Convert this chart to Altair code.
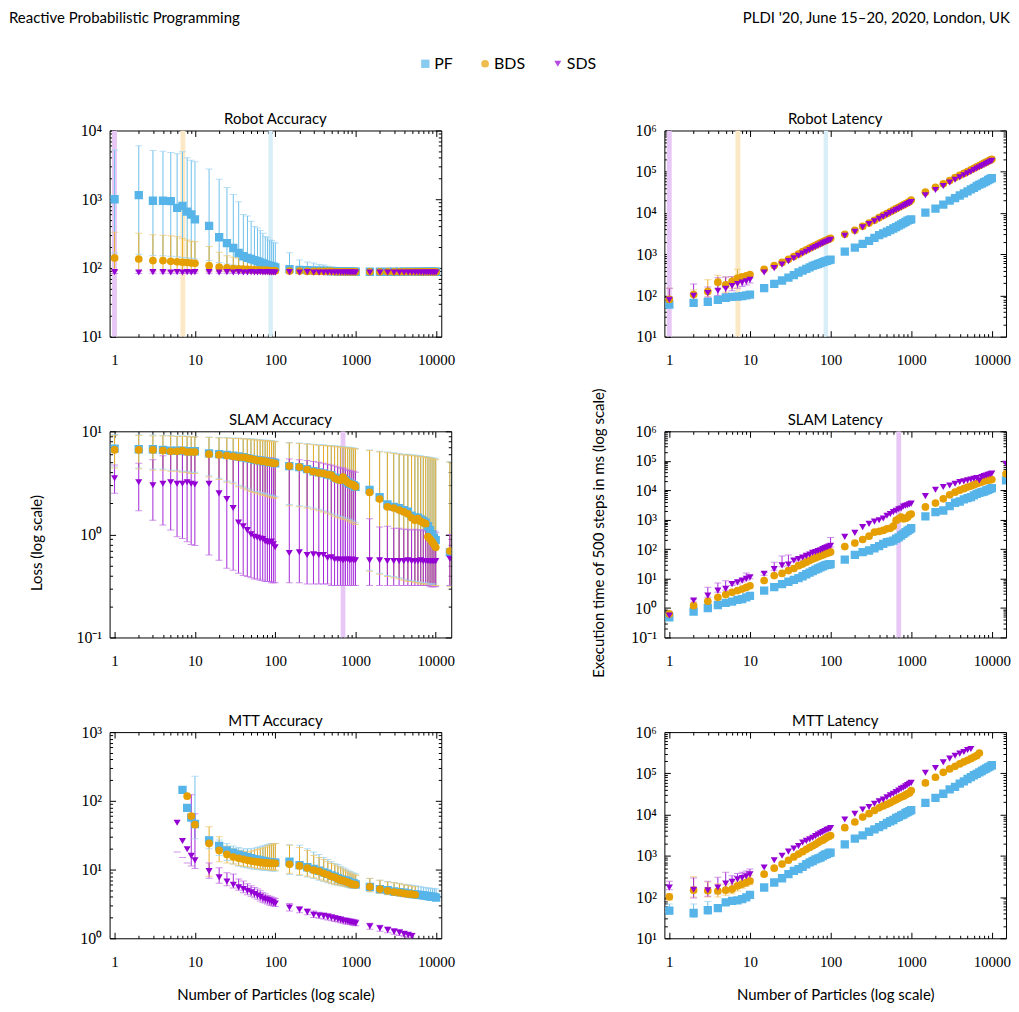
import altair as alt
import pandas as pd

SERIES = ["PF", "BDS", "SDS"]
COLORS = ["#56B4E9", "#E69F00", "#9400D3"]
BAR_COLORS = ["#6FBFEC", "#EAAD26", "#A426D9"]
CAP_COLORS = ["#9AD2F2", "#F0C566", "#BF66E5"]
SHAPES = ["square", "circle", "triangle-down"]
SIZES = [70, 50, 54]
BAR_OF = dict(zip(SERIES, BAR_COLORS))
CAP_OF = dict(zip(SERIES, CAP_COLORS))

# particle counts
X = [1, 2, 3, 4, 5, 6, 7, 8, 9, 10,
     15, 20, 25, 30, 35, 40, 45, 50, 55, 60, 65, 70, 75, 80, 85, 90, 95, 100,
     150, 200, 250, 300, 350, 400, 450, 500, 550, 600, 650, 700, 750, 800, 850, 900, 950, 1000,
     1500, 2000, 2500, 3000, 3500, 4000, 4500, 5000, 5500, 6000, 6500, 7000, 7500, 8000, 8500, 9000, 9500, 10000]
X_SLAM = X + [15000]

# ---------------- Robot accuracy ----------------
RA_PF = [1000, 1150, 950, 950, 940, 750, 800, 660, 600, 510,
         410, 280, 230, 195, 165, 148, 140, 135, 130, 125, 120, 116, 113, 110, 108, 106, 104, 102,
         96, 94, 93, 92, 91, 91, 90, 90, 90, 89, 89, 89, 89, 88, 88, 88, 88, 88,
         88, 88, 88, 88, 88, 88, 88, 88, 88, 88, 88, 88, 88, 88, 88, 88, 88, 88]
RA_PF_HI = [5200, 6000, 5100, 5000, 4800, 4600, 4900, 4000, 3700, 3500,
            2750, 1950, 1480, 1170, 920, 600, 570, 480, 400, 380, 350, 320, 287, 274, 256, 250, 237, 230,
            167, 131, 122, 118, 112, 110, 106, 104, 102, 101, 100, 99, 98, 97, 96, 96, 95, 95,
            93, 93, 93, 93, 92, 92, 92, 92, 92, 92, 92, 92, 92, 92, 92, 92, 92, 92]
RA_PF_LO = [165, 158, 152, 150, 148, 145, 142, 140, 138, 135,
            128, 120, 114, 110, 106, 102, 100, 98, 97, 96, 95, 94, 93, 92, 92, 91, 91, 90,
            89, 89, 88, 88, 88, 87, 87, 87, 87, 87, 86, 86, 86, 86, 86, 86, 86, 86,
            85, 85, 85, 85, 85, 85, 85, 85, 85, 85, 85, 85, 85, 85, 85, 85, 85, 85]
RA_BDS = [140, 135, 128, 128, 125, 123, 121, 120, 118, 117,
          108, 103, 100, 98, 97, 96, 95, 94, 94, 93, 93, 92, 92, 92, 91, 91, 91, 91,
          90, 90, 89, 89, 89, 89, 89, 89, 88, 88, 88, 88, 88, 88, 88, 88, 88, 88,
          88, 88, 88, 88, 88, 88, 88, 88, 88, 88, 88, 88, 88, 88, 88, 88, 88, 88]
RA_BDS_HI = [330, 320, 303, 300, 295, 285, 270, 255, 245, 240,
             205, 169, 150, 143, 138, 133, 128, 124, 121, 118, 116, 114, 112, 110, 108, 107, 106, 105,
             100, 98, 96, 95, 94, 94, 93, 93, 92, 92, 92, 91, 91, 91, 91, 90, 90, 90,
             90, 90, 90, 90, 90, 90, 90, 90, 90, 90, 90, 90, 90, 90, 90, 90, 90, 90]
RA_BDS_LO = [92, 92, 91, 91, 91, 90, 90, 90, 90, 90,
             89, 89, 88, 88, 88, 88, 88, 87, 87, 87, 87, 87, 87, 87, 87, 87, 87, 87,
             86, 86, 86, 86, 86, 86, 86, 86, 86, 86, 86, 86, 86, 86, 86, 86, 86, 86,
             86, 86, 86, 86, 86, 86, 86, 86, 86, 86, 86, 86, 86, 86, 86, 86, 86, 86]
RA_SDS = [87, 86, 87, 87, 86, 87, 86, 87, 86, 87,
          87, 86, 87, 86, 87, 86, 86, 87, 86, 86, 87, 86, 86, 87, 86, 86, 86, 86,
          87, 86, 87, 86, 86, 86, 86, 86, 86, 86, 86, 86, 86, 86, 86, 86, 86, 86,
          86, 86, 86, 86, 86, 86, 86, 86, 86, 86, 86, 86, 86, 86, 86, 86, 86, 86]
RA_SDS_HI = [91, 90, 90, 90, 90, 90, 90, 90, 90, 90,
             90, 89, 89, 89, 89, 89, 89, 89, 89, 89, 89, 89, 89, 89, 89, 89, 89, 89,
             89, 89, 89, 89, 89, 89, 89, 89, 89, 89, 89, 89, 89, 89, 89, 89, 89, 89,
             89, 89, 89, 89, 89, 89, 89, 89, 89, 89, 89, 89, 89, 89, 89, 89, 89, 89]
RA_SDS_LO = [83, 83, 84, 84, 84, 84, 84, 84, 84, 84,
             84, 84, 84, 84, 84, 84, 84, 84, 84, 84, 84, 84, 84, 84, 84, 84, 84, 84,
             84, 84, 84, 84, 84, 84, 84, 84, 84, 84, 84, 84, 84, 84, 84, 84, 84, 84,
             84, 84, 84, 84, 84, 84, 84, 84, 84, 84, 84, 84, 84, 84, 84, 84, 84, 84]

# ---------------- Robot latency ----------------
RL_PF = [60, 66, 70, 78, 88, 92, 94, 96, 100, 105,
         150, 190, 230, 270, 310, 360, 400, 440, 480, 520, 550, 580, 610, 640, 670, 690, 720, 740,
         1150, 1450, 1780, 2100, 2500, 2900, 3200, 3500, 3850, 4200, 4550, 4950, 5300, 5650, 6100, 6500, 6800, 7000,
         10200, 12700, 16000, 20000, 23000, 26500, 30000, 33500, 37500, 40500, 45000, 48500, 51500, 55500, 58500, 63000, 66500, 70000]
RL_BDS = [80, 105, 125, 210, 180, 220, 265, 280, 300, 320,
          430, 530, 630, 750, 880, 1000, 1150, 1270, 1400, 1520, 1640, 1760, 1880, 2000, 2100, 2200, 2320, 2430,
          3050, 3800, 4750, 5700, 6650, 7700, 8700, 9700, 10700, 11700, 12700, 13700, 14700, 15700, 16700, 17700, 18800, 20500,
          32000, 42000, 51000, 61000, 72000, 82000, 91000, 101000, 111000, 121000, 132000, 141000, 151000, 162000, 171000, 181000, 191000, 200000]
RL_SDS = [78, 98, 115, 130, 145, 170, 190, 205, 220, 240,
          360, 460, 560, 680, 800, 920, 1040, 1150, 1270, 1390, 1500, 1610, 1720, 1830, 1940, 2040, 2140, 2250,
          2800, 3500, 4500, 5400, 6300, 7200, 8100, 9000, 10000, 10900, 11800, 12700, 13600, 14500, 15500, 16400, 17300, 18500,
          27000, 36000, 45000, 55000, 64000, 73000, 82000, 91000, 100000, 110000, 120000, 128000, 137000, 146000, 155000, 165000, 174000, 183000]
RL_PF_HI = [75, 80, 84, 92, 102, 106, 108, 110, 114, 120]
RL_PF_LO = [50, 56, 60, 68, 78, 82, 84, 86, 90, 94]
RL_BDS_HI = [150, 135, 240, 310, 280, 290, 430, 340, 330, 330]
RL_BDS_LO = [60, 80, 95, 140, 120, 150, 200, 220, 240, 260]
RL_SDS_HI = [150, 190, 160, 270, 280, 290, 290, 280, 270, 280]
RL_SDS_LO = [55, 70, 90, 100, 110, 130, 150, 165, 180, 200]

# ---------------- SLAM accuracy ----------------
SA_PF = [6.8, 6.7, 6.7, 6.6, 6.5, 6.5, 6.5, 6.4, 6.4, 6.4,
         6.1, 6.0, 5.9, 5.8, 5.7, 5.6, 5.5, 5.4, 5.3, 5.25, 5.2, 5.15, 5.1, 5.05, 5.0, 5.0, 4.95, 4.9,
         4.6, 4.5, 4.3, 4.1, 4.0, 3.9, 3.8, 3.75, 3.55, 3.45, 3.4, 3.5, 3.35, 3.2, 3.1, 3.05, 3.0, 2.9,
         2.7, 2.3, 1.95, 1.85, 1.8, 1.72, 1.66, 1.52, 1.46, 1.45, 1.4, 1.35, 1.3, 1.2, 1.1, 1.0, 0.93, 0.88,
         0.67]
SA_PF_HI = [9.3, 9.2, 9.2, 9.1, 9.1, 9.0, 9.0, 9.0, 8.9, 8.9,
            8.8, 8.7, 8.7, 8.6, 8.6, 8.5, 8.5, 8.4, 8.4, 8.3, 8.3, 8.2, 8.2, 8.2, 8.1, 8.1, 8.0, 8.0,
            7.8, 7.7, 7.6, 7.5, 7.4, 7.4, 7.3, 7.3, 7.2, 7.2, 7.1, 7.1, 7.0, 7.0, 7.0, 6.9, 6.9, 6.8,
            6.6, 6.4, 6.3, 6.2, 6.1, 6.0, 6.0, 5.9, 5.9, 5.8, 5.8, 5.7, 5.7, 5.6, 5.6, 5.5, 5.5, 5.4,
            5.1]
SA_PF_LO = [4.5, 4.4, 4.3, 4.3, 4.2, 4.2, 4.1, 4.1, 4.0, 4.0,
            3.7, 3.5, 3.3, 3.2, 3.0, 2.9, 2.8, 2.7, 2.6, 2.6, 2.55, 2.5, 2.5, 2.45, 2.4, 2.4, 2.35, 2.35,
            1.95, 1.9, 1.85, 1.8, 1.75, 1.7, 1.65, 1.6, 1.55, 1.5, 1.5, 1.45, 1.45, 1.4, 1.4, 1.35, 1.35, 1.3,
            0.45, 0.42, 0.40, 0.39, 0.38, 0.37, 0.36, 0.36, 0.35, 0.35, 0.34, 0.34, 0.34, 0.33, 0.33, 0.33, 0.33, 0.32,
            0.32]
SA_BDS = [6.6, 6.6, 6.6, 6.5, 6.4, 6.4, 6.5, 6.3, 6.3, 6.3,
          6.0, 5.9, 5.8, 5.7, 5.6, 5.6, 5.5, 5.4, 5.3, 5.2, 5.2, 5.1, 5.1, 5.0, 5.0, 4.95, 4.9, 4.9,
          4.6, 4.5, 4.25, 4.05, 3.95, 3.9, 3.8, 3.75, 3.5, 3.4, 3.35, 3.6, 3.35, 3.2, 3.1, 3.05, 3.0, 2.9,
          2.55, 2.2, 1.85, 1.8, 1.72, 1.65, 1.58, 1.45, 1.37, 1.42, 1.34, 1.3, 1.27, 0.95, 0.9, 0.85, 0.8, 0.75,
          0.69]
SA_BDS_HI = [9.1, 9.1, 9.0, 9.0, 9.0, 8.9, 8.9, 8.9, 8.8, 8.8,
             8.7, 8.6, 8.6, 8.5, 8.5, 8.4, 8.4, 8.3, 8.3, 8.2, 8.2, 8.1, 8.1, 8.1, 8.0, 8.0, 7.9, 7.9,
             7.7, 7.6, 7.5, 7.4, 7.3, 7.3, 7.2, 7.2, 7.1, 7.1, 7.0, 7.0, 6.9, 6.9, 6.9, 6.8, 6.8, 6.7,
             6.5, 6.3, 6.2, 6.1, 6.0, 5.9, 5.9, 5.8, 5.8, 5.7, 5.7, 5.6, 5.6, 5.5, 5.5, 5.4, 5.4, 5.3,
             5.0]
SA_BDS_LO = [4.4, 4.3, 4.2, 4.2, 4.1, 4.1, 4.0, 4.0, 3.9, 3.9,
             3.6, 3.4, 3.2, 3.1, 2.9, 2.8, 2.7, 2.6, 2.55, 2.5, 2.45, 2.4, 2.4, 2.35, 2.3, 2.3, 2.25, 2.25,
             1.9, 1.85, 1.8, 1.75, 1.7, 1.65, 1.6, 1.55, 1.5, 1.45, 1.45, 1.4, 1.4, 1.35, 1.35, 1.3, 1.3, 1.25,
             0.44, 0.41, 0.39, 0.38, 0.37, 0.36, 0.35, 0.35, 0.34, 0.34, 0.33, 0.33, 0.33, 0.32, 0.32, 0.32, 0.32, 0.32,
             0.31]
SA_SDS = [3.5, 3.2, 3.0, 3.1, 3.2, 3.1, 3.1, 3.2, 3.1, 3.05,
          3.1, 2.5, 2.2, 1.8, 1.3, 1.2, 1.1, 1.0, 0.95, 0.93, 0.91, 0.9, 0.86, 0.84, 0.83, 0.85, 0.8, 0.75,
          0.66, 0.67, 0.63, 0.64, 0.63, 0.63, 0.59, 0.6, 0.57, 0.57, 0.57, 0.56, 0.57, 0.57, 0.56, 0.57, 0.56, 0.56,
          0.56, 0.56, 0.55, 0.55, 0.55, 0.55, 0.56, 0.55, 0.55, 0.55, 0.56, 0.55, 0.55, 0.55, 0.55, 0.55, 0.55, 0.55,
          0.58]
SA_SDS_HI = [4.7, 4.9, 5.3, 5.8, 6.1, 6.3, 6.3, 6.3, 6.3, 6.3,
             6.2, 6.1, 6.0, 5.9, 5.9, 5.8, 5.8, 5.7, 5.7, 5.6, 5.6, 5.6, 5.5, 5.5, 5.5, 5.5, 5.4, 5.4,
             5.4, 5.3, 5.2, 5.1, 5.0, 4.9, 4.8, 4.7, 4.6, 4.5, 4.4, 4.4, 4.3, 4.2, 4.2, 4.1, 4.1, 4.0,
             1.42, 1.18, 1.2, 1.15, 1.15, 1.12, 1.12, 1.1, 1.12, 1.1, 1.1, 1.1, 1.08, 1.08, 1.1, 1.08, 1.08, 1.05,
             1.0]
SA_SDS_LO = [2.5, 1.7, 1.37, 1.23, 1.1, 0.95, 0.91, 0.85, 0.8, 0.78,
             0.63, 0.56, 0.47, 0.45, 0.42, 0.40, 0.39, 0.38, 0.37, 0.37, 0.36, 0.36, 0.35, 0.35, 0.35, 0.34, 0.34, 0.34,
             0.34, 0.34, 0.33, 0.33, 0.33, 0.33, 0.33, 0.32, 0.32, 0.32, 0.32, 0.32, 0.32, 0.32, 0.32, 0.32, 0.32, 0.32,
             0.32, 0.32, 0.32, 0.32, 0.32, 0.32, 0.32, 0.32, 0.32, 0.32, 0.32, 0.32, 0.32, 0.32, 0.31, 0.31, 0.31, 0.31,
             0.32]

# ---------------- SLAM latency ----------------
SL_PF = [0.48, 0.75, 1.0, 1.27, 1.49, 1.65, 1.9, 2.0, 2.3, 2.6,
         3.9, 5.1, 6.5, 7.8, 9.0, 10.3, 12, 14, 16, 18, 20, 22, 24, 26, 28, 29, 30, 31,
         44, 64, 79, 90, 107, 126, 150, 173, 180, 195, 225, 250, 290, 330, 375, 420, 460, 510,
         1300, 1800, 2050, 2900, 3750, 4150, 4900, 5400, 5800, 6650, 7500, 8100, 8600, 9000, 9800, 10300, 11100, 11700,
         21500]
SL_BDS = [0.63, 1.2, 1.7, 2.3, 2.86, 3.4, 3.9, 4.4, 5.0, 5.7,
          8.6, 12.6, 15, 18.7, 22, 27.5, 31, 36, 41, 46, 50, 55, 59, 63, 68, 72, 76, 80,
          122, 160, 212, 275, 377, 400, 430, 490, 510, 600, 940, 1070, 1220, 1070, 1100, 1200, 1450, 1550,
          2700, 3650, 5100, 7000, 8600, 10000, 11300, 12800, 13800, 15300, 16600, 18000, 19000, 20500, 21600, 22000, 22500, 23000,
          36000]
SL_SDS = [0.56, 1.8, 2.64, 3.9, 4.46, 6.5, 7.4, 8.5, 9.8, 11,
          14.5, 21, 28, 30, 41, 46, 52, 59, 66, 75, 80, 86, 92, 100, 108, 115, 122, 130,
          260, 357, 557, 720, 860, 960, 1100, 1350, 1550, 1800, 2000, 2250, 2400, 2800, 2950, 3100, 3300, 3500,
          6300, 10400, 12800, 14500, 16500, 18900, 20000, 21500, 23000, 24500, 26000, 21500, 28000, 30000, 31500, 33500, 35000, 37000,
          79000]
SL_PF_HI = [0.55, 0.85, 1.1, 1.4, 1.6, 1.8, 2.1, 2.2, 2.5, 2.9,
            4.3, 5.6, 7.1, 8.5, 9.8, 11.2, 13, 15, 17, 20, 22, 24, 27, 29, 31, 33, 35, 41]
SL_PF_LO = [0.42, 0.68, 0.92, 1.15, 1.38, 1.52, 1.75, 1.85, 2.1, 2.4,
            3.6, 4.7, 6.0, 7.2, 8.3, 9.5, 11, 13, 15, 16.5, 18.5, 20, 22, 24, 25.5, 26.5, 27.5, 28]
SL_SDS_HI = [0.62, 2.0, 5.1, 7.1, 8.5, 7.2, 8.2, 9.4, 15.4, 12.5,
             16, 36, 58, 63, 46, 52, 58, 66, 73, 84, 90, 96, 103, 112, 120, 128, 136, 250]
SL_SDS_LO = [0.5, 1.6, 2.3, 3.4, 4.0, 5.8, 6.6, 7.6, 8.8, 9.9,
             13, 19, 25, 27, 37, 42, 47, 53, 60, 68, 72, 78, 83, 90, 97, 104, 110, 117]

# ---------------- MTT accuracy ----------------
MA_PF = [None, None, None, None, None, None, 144, 79, 57, 46,
         26.6, 22, 19, 17.6, 16.5, 15.8, 15.2, 14.6, 14.2, 13.9, 13.6, 13.3, 13.1, 12.9, 12.8, 12.7, 12.6, 12.6,
         13, 11.6, 10.8, 10.2, 9.6, 9.1, 8.7, 8.2, 7.9, 7.5, 7.2, 7.0, 6.9, 6.7, 6.5, 6.3, 6.3, 6.1,
         5.6, 5.2, 5.0, 4.8, 4.7, 4.6, 4.5, 4.4, 4.35, 4.3, 4.25, 4.2, 4.15, 4.1, 4.05, 4.0, 4.0, 3.9]
MA_PF_HI = [None, None, None, None, None, None, None, None, None, 227,
            30, 27, 24, 22, 21, 20, 20, 20, 20.5, 21, 21.5, 22, 22.5, 23, 23.5, 24, 24, 24,
            23, 22.5, 20, 18, 16.5, 15, 14, 13, 12.3, 11.8, 11.2, 10.6, 10.2, 9.8, 9.4, 9.0, 8.8, 8.6,
            7.4, 7.0, 6.7, 6.5, 6.3, 6.1, 6.0, 5.9, 5.8, 5.7, 5.6, 5.5, 5.45, 5.4, 5.35, 5.3, 5.25, 5.2]
MA_PF_LO = [None, None, None, None, None, None, None, None, None, 28,
            20, 16, 13.5, 12, 11.2, 10.8, 10.5, 10.3, 10.1, 10.0, 9.9, 9.8, 9.7, 9.7, 9.6, 9.6, 9.5, 9.5,
            8.5, 8.2, 7.8, 7.4, 7.0, 6.7, 6.4, 6.2, 6.0, 5.9, 5.8, 5.7, 5.6, 5.5, 5.4, 5.35, 5.3, 5.3,
            4.7, 4.5, 4.4, 4.3, 4.2, 4.1, 4.0, 3.95, 3.9, 3.85, 3.8, 3.75, 3.7, 3.7, 3.65, 3.6, 3.6, 3.6]
MA_BDS = [None, None, None, None, None, None, None, 117, 60, 45,
          24, 19, 16.6, 15.2, 14.6, 14.1, 13.6, 13.3, 13.1, 12.9, 12.7, 12.6, 12.5, 12.4, 12.4, 12.3, 12.3, 12.3,
          11.9, 11.3, 10.5, 9.8, 9.4, 8.8, 8.4, 7.9, 7.7, 7.3, 7.0, 6.9, 6.7, 6.5, 6.3, 6.1, 6.1, 6.0,
          5.6, 5.2, 4.9, 4.7, 4.6, 4.5, 4.4, 4.4, 4.3]
MA_BDS_HI = [None, None, None, None, None, None, None, None, None, None,
             42, 30, 22, 20, 19, 18.5, 18, 18.5, 19, 19.5, 20, 20.5, 21, 22, 22.5, 23, 23.5, 24,
             22.5, 21, 19, 16, 15, 14, 13, 12.2, 11.6, 11, 10.5, 10, 9.6, 9.2, 8.9, 8.6, 8.4, 8.2,
             7.5, 7.0, 6.6, 6.4, 6.2, 6.0, 5.9, 5.7, 5.6]
MA_BDS_LO = [None, None, None, None, None, None, None, None, None, None,
             8, 13, 12.5, 12, 11.5, 11.2, 11, 10.8, 10.6, 10.4, 10.3, 10.2, 10.1, 10.0, 9.9, 9.9, 9.8, 9.8,
             8.8, 8.4, 8.0, 7.6, 7.2, 6.9, 6.6, 6.3, 6.1, 6.0, 5.9, 5.8, 5.7, 5.6, 5.5, 5.45, 5.4, 5.4,
             4.8, 4.5, 4.3, 4.2, 4.1, 4.0, 3.95, 3.9, 3.9]
MA_SDS = [None, None, None, None, None, 48, 26, 19.7, 15.8, 13.6,
          9.5, 7.7, 6.7, 6.0, 5.5, 5.2, 4.9, 4.65, 4.4, 4.2, 4.0, 3.8, 3.7, 3.6, 3.5, 3.4, 3.3, 3.2,
          2.8, 2.6, 2.4, 2.2, 2.15, 2.1, 2.05, 2.0, 1.95, 1.9, 1.85, 1.8, 1.78, 1.75, 1.72, 1.7, 1.68, 1.65,
          1.5, 1.4, 1.32, 1.25, 1.21, 1.15, 1.11, 1.08]
MA_SDS_HI = [None, None, None, None, None, None, None, None, 123, 65,
             12.5, 10.6, 9.0, 8.6, 7.3, 6.8, 6.2, 5.8, 5.5, 5.2, 4.9, 4.6, 4.4, 4.2, 4.1, 4.0, 3.9, 3.8,
             3.2, 2.9, 2.7, 2.5, 2.4, 2.35, 2.3, 2.2, 2.15, 2.1, 2.05, 2.0, 1.98, 1.95, 1.92, 1.9, 1.87, 1.85,
             1.65, 1.55, 1.47, 1.38, 1.34, 1.28, 1.23, 1.18]
MA_SDS_LO = [None, None, None, None, None, 18, 15, 12.5, 11.3, 10.4,
             7.5, 6.3, 5.8, 5.4, 5.0, 4.6, 4.3, 4.1, 3.9, 3.7, 3.5, 3.35, 3.25, 3.15, 3.05, 3.0, 2.95, 2.9,
             2.5, 2.35, 2.2, 2.0, 1.95, 1.9, 1.85, 1.8, 1.75, 1.72, 1.68, 1.65, 1.62, 1.6, 1.58, 1.56, 1.54, 1.52,
             1.35, 1.27, 1.2, 1.14, 1.1, 1.05, 1.02, 1.0]

# ---------------- MTT latency ----------------
ML_PF = [47, 41, 48, 54, 74, 81, 83, 89, 98, 113,
         170, 225, 286, 358, 430, 475, 540, 625, 690, 750, 820, 870, 900, 990, 1060, 1100, 1170, 1200,
         1900, 2600, 3130, 3840, 4370, 4980, 5570, 6300, 6900, 7400, 8300, 8800, 9600, 10000, 10900, 11500, 12100, 12800,
         19300, 25500, 32000, 41000, 47000, 56500, 64000, 73000, 81000, 90000, 97000, 106000, 114000, 123000, 131000, 140000, 148000, 157000]
ML_BDS = [101, 147, 142, 140, 147, 155, 186, 205, 225, 245,
          358, 500, 630, 780, 940, 1100, 1260, 1440, 1600, 1750, 1900, 2100, 2300, 2400, 2600, 2800, 2950, 3100,
          4800, 6600, 8700, 10500, 12600, 14600, 16200, 17700, 19300, 21300, 23000, 25000, 26500, 28000, 30000, 32000, 33500, 38300,
          58700, 80400, 106000, 128000, 148000, 169000, 190000, 207000, 227000, 249000, 268000, 311000]
ML_SDS = [170, 150, 145, 170, 213, 235, 270, 290, 320, 355,
          520, 780, 1000, 1260, 1500, 1730, 2100, 2300, 2500, 2750, 3000, 3300, 3500, 3750, 4000, 4250, 4400, 4700,
          7600, 10500, 13300, 15200, 18300, 21100, 23000, 26300, 29500, 32000, 35300, 38400, 42000, 44800, 48300, 52000, 56000, 58700,
          103000, 135000, 185000, 227000, 268000, 300000, 329000, 367000, 388000]
ML_PF_HI = [68, 68, 78, 66, 85, 90, 92, 98, 108, 125]
ML_PF_LO = [38, 32, 38, 46, 65, 72, 75, 80, 88, 100]
ML_BDS_HI = [120, 310, 230, 210, 200, 210, 240, 260, 300, 330]
ML_BDS_LO = [85, 100, 100, 100, 110, 120, 140, 160, 180, 200]
ML_SDS_HI = [240, 290, 240, 300, 400, 330, 370, 400, 430, 480]
ML_SDS_LO = [150, 95, 105, 120, 140, 170, 200, 220, 240, 270]

# highlighted particle ranges (vertical bands, light tints of the series colours)
ROBOT_BAND_LO = [0.93, 6.6, 82]
ROBOT_BAND_HI = [1.07, 7.6, 93]
ROBOT_BAND_COL = ["#E7C7F5", "#FBE9C6", "#D8EEF9"]
SLAM_BAND_LO = [655]
SLAM_BAND_HI = [750]
SLAM_BAND_COL = ["#E7C7F5"]

HEADER_LEFT = "Reactive Probabilistic Programming"
HEADER_RIGHT = "PLDI '20, June 15\u201320, 2020, London, UK"
Y_TITLE_LEFT = "Loss (log scale)"
Y_TITLE_RIGHT = "Execution time of 500 steps in ms (log scale)"
X_TITLE = "Number of Particles (log scale)"

Y_LABEL_EXPR = ("datum.value < 0.5 ? '10\u207b\u00b9' : datum.value < 5 ? '10\u2070' : "
                "datum.value < 50 ? '10\u00b9' : datum.value < 500 ? '10\u00b2' : "
                "datum.value < 5000 ? '10\u00b3' : datum.value < 50000 ? '10\u2074' : "
                "datum.value < 500000 ? '10\u2075' : '10\u2076'")


def build_df(xs, vals, los, his):
    rows = []
    for name, v, lo, hi in zip(SERIES, vals, los, his):
        for arr in (v, lo, hi):
            if len(arr) > len(xs):
                raise ValueError(f"too many values for {name}: {len(arr)} > {len(xs)}")
        for i, x in enumerate(xs):
            rows.append({
                "x": x, "series": name, "bar": BAR_OF[name], "cap": CAP_OF[name],
                "v": v[i] if i < len(v) else None,
                "lo": lo[i] if i < len(lo) else None,
                "hi": hi[i] if i < len(hi) else None,
            })
    return pd.DataFrame(rows)


X_MAJOR = [1, 10, 100, 1000, 10000]
X_MINOR = [k * 10 ** e for e in range(0, 4) for k in range(2, 10)]
Y_MAJOR_ALL = [0.1, 1, 10, 100, 1000, 10000, 100000, 1000000]


def y_ticks(dom):
    major = [v for v in Y_MAJOR_ALL if dom[0] * 0.999 <= v <= dom[1] * 1.001]
    minor = [round(k * 10.0 ** e, 6) for e in range(-1, 6) for k in range(2, 10)
             if dom[0] < k * 10.0 ** e < dom[1]]
    return major, minor


def make_axis(orient, kind, values, labels=False, is_y=False, title=None, title_pad=10):
    size = 6 if kind == "major" else 3
    kw = dict(orient=orient, values=values, tickSize=size, offset=-size, domain=False,
              grid=False, labels=labels, ticks=True, tickColor="black", tickWidth=1,
              title=title, titlePadding=title_pad)
    if labels:
        if is_y:
            kw.update(labelExpr=Y_LABEL_EXPR, labelPadding=8, labelFontSize=16)
        else:
            kw.update(labelExpr="format(datum.value, 'd')", labelPadding=16,
                      labelFontSize=15, labelFlush=False)
    return alt.Axis(**kw)


LEG = alt.Legend(title=None, orient="none", legendX=309, legendY=30, direction="horizontal",
                 labelFont="Lato", labelFontSize=16, symbolSize=55, columnPadding=24,
                 labelOffset=1, symbolStrokeWidth=0, symbolOpacity=1)


def panel(title, df, xdom, ydom, width, bands=None, xtitle=None):
    xsc = alt.Scale(type="log", domain=xdom, nice=False)
    ysc = alt.Scale(type="log", domain=ydom, nice=False)
    ymaj, ymin = y_ticks(ydom)
    base = alt.Chart(df)
    layers = []
    if bands is not None:
        layers.append(
            alt.Chart(bands).mark_rect(clip=True).encode(
                x=alt.X("lo:Q", scale=xsc, axis=None),
                x2="hi:Q",
                color=alt.Color("c:N", scale=None),
            )
        )
    rules = base.transform_filter("isValid(datum.lo) && isValid(datum.hi)").mark_rule(
        strokeWidth=1, clip=True).encode(
        x=alt.X("x:Q", scale=xsc,
                axis=make_axis("bottom", "major", X_MAJOR, labels=True, title=xtitle, title_pad=18)),
        y=alt.Y("lo:Q", scale=ysc, axis=make_axis("left", "major", ymaj, labels=True, is_y=True)),
        y2="hi:Q",
        color=alt.Color("bar:N", scale=None),
    )
    caps_hi = base.transform_filter("isValid(datum.hi)").mark_tick(
        orient="horizontal", size=7, thickness=1, clip=True).encode(
        x=alt.X("x:Q", scale=xsc, axis=make_axis("bottom", "minor", X_MINOR)),
        y=alt.Y("hi:Q", scale=ysc, axis=make_axis("left", "minor", ymin)),
        color=alt.Color("cap:N", scale=None),
    )
    caps_lo = base.transform_filter("isValid(datum.lo)").mark_tick(
        orient="horizontal", size=7, thickness=1, clip=True).encode(
        x=alt.X("x:Q", scale=xsc, axis=make_axis("top", "major", X_MAJOR)),
        y=alt.Y("lo:Q", scale=ysc, axis=make_axis("right", "major", ymaj)),
        color=alt.Color("cap:N", scale=None),
    )
    points = base.transform_filter("isValid(datum.v)").mark_point(
        filled=True, opacity=1, clip=True).encode(
        x=alt.X("x:Q", scale=xsc, axis=make_axis("top", "minor", X_MINOR)),
        y=alt.Y("v:Q", scale=ysc, axis=make_axis("right", "minor", ymin)),
        color=alt.Color("series:N", scale=alt.Scale(domain=SERIES, range=COLORS), legend=LEG),
        shape=alt.Shape("series:N", scale=alt.Scale(domain=SERIES, range=SHAPES), legend=LEG),
        size=alt.Size("series:N", scale=alt.Scale(domain=SERIES, range=SIZES), legend=None),
    )
    layers += [rules, caps_hi, caps_lo, points]
    return alt.layer(*layers).resolve_axis(x="independent", y="independent").properties(
        width=width, height=207,
        title=alt.TitleParams(title, font="Lato", fontSize=15, fontWeight="normal",
                              color="black", offset=-4.5, anchor="middle"),
    )


robot_bands = pd.DataFrame({"lo": ROBOT_BAND_LO, "hi": ROBOT_BAND_HI, "c": ROBOT_BAND_COL})
slam_bands = pd.DataFrame({"lo": SLAM_BAND_LO, "hi": SLAM_BAND_HI, "c": SLAM_BAND_COL})

ra = panel("Robot Accuracy",
           build_df(X, [RA_PF, RA_BDS, RA_SDS], [RA_PF_LO, RA_BDS_LO, RA_SDS_LO],
                    [RA_PF_HI, RA_BDS_HI, RA_SDS_HI]),
           [0.867, 11600], [10, 10000], 333, bands=robot_bands)
rl = panel("Robot Latency",
           build_df(X, [RL_PF, RL_BDS, RL_SDS], [RL_PF_LO, RL_BDS_LO, RL_SDS_LO],
                    [RL_PF_HI, RL_BDS_HI, RL_SDS_HI]),
           [0.868, 15000], [10, 1000000], 343, bands=robot_bands)
sa = panel("SLAM Accuracy",
           build_df(X_SLAM, [SA_PF, SA_BDS, SA_SDS], [SA_PF_LO, SA_BDS_LO, SA_SDS_LO],
                    [SA_PF_HI, SA_BDS_HI, SA_SDS_HI]),
           [0.867, 15600], [0.1, 10], 343, bands=slam_bands)
sl = panel("SLAM Latency",
           build_df(X_SLAM, [SL_PF, SL_BDS, SL_SDS], [SL_PF_LO, [], SL_SDS_LO],
                    [SL_PF_HI, [], SL_SDS_HI]),
           [0.868, 15000], [0.1, 1000000], 343, bands=slam_bands)
ma = panel("MTT Accuracy",
           build_df(X, [MA_PF, MA_BDS, MA_SDS], [MA_PF_LO, MA_BDS_LO, MA_SDS_LO],
                    [MA_PF_HI, MA_BDS_HI, MA_SDS_HI]),
           [0.867, 11600], [1, 1000], 333, xtitle=X_TITLE)
ml = panel("MTT Latency",
           build_df(X, [ML_PF, ML_BDS, ML_SDS], [ML_PF_LO, ML_BDS_LO, ML_SDS_LO],
                    [ML_PF_HI, ML_BDS_HI, ML_SDS_HI]),
           [0.868, 15000], [10, 1000000], 343, xtitle=X_TITLE)


def col_title(text, offset, dx):
    return alt.TitleParams(text, orient="left", anchor="middle", frame="bounds", font="Lato",
                           fontSize=15, fontWeight="normal", color="black", offset=offset, dx=dx)


left_col = alt.vconcat(ra, sa, ma, spacing=44, title=col_title(Y_TITLE_LEFT, 31, 14))
right_col = alt.vconcat(rl, sl, ml, spacing=44, title=col_title(Y_TITLE_RIGHT, 23, 24))
body = alt.hconcat(left_col, right_col, spacing=136)


def header_cell(text, anchor, width, dx):
    return alt.Chart(alt.Data(values=[])).mark_point(opacity=0).encode(
        opacity=alt.value(0)
    ).properties(
        width=width, height=1,
        view=alt.ViewConfig(stroke="transparent"),
        title=alt.TitleParams(text, anchor=anchor, font="Lato", fontSize=15, fontWeight="normal",
                              color="black", offset=0, dx=dx),
    )


header = alt.hconcat(header_cell(HEADER_LEFT, "start", 450, -101),
                     header_cell(HEADER_RIGHT, "end", 452, 0), spacing=0)

chart = alt.vconcat(header, body, spacing=84).properties(
    padding={"left": 0, "top": 0, "right": 0, "bottom": 0}
).configure_view(stroke="black", strokeWidth=1).configure_axis(
    labelFont="Liberation Serif", labelColor="black", titleFont="Lato", titleFontSize=15,
    titleFontWeight="normal", titleColor="black"
)

chart.save("out.html", embed_options={"renderer": "svg", "actions": False})
